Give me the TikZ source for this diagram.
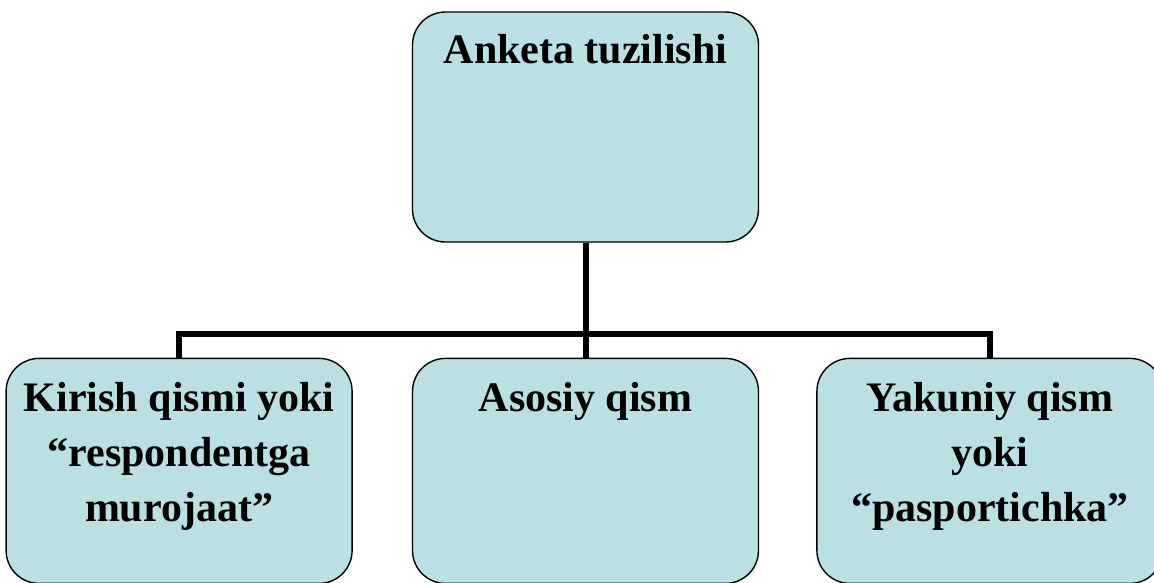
\documentclass[tikz,border=0pt]{standalone}
\usepackage{fontspec}
\setmainfont{Liberation Serif}
\usepackage{tikz}
\usetikzlibrary{positioning}
\definecolor{boxblue}{RGB}{186,224,228}

\begin{document}
\begin{tikzpicture}[node distance=115pt,
    box/.style={rectangle, draw, line width=1.4pt, fill=boxblue, rounded corners=33pt,
        minimum width=346pt, inner xsep=4pt, inner ysep=10pt, align=center,
        font=\fontsize{42}{55}\selectfont\bfseries},
    conn/.style={line width=6pt}]
    \useasboundingbox (0,0) rectangle (1154pt,-582pt);

    \node (anketa) [box, text height=41pt, text depth=169pt] at (585.5pt,-127pt) {Anketa tuzilishi};
    \node (asosiy) [box, text height=43pt, text depth=162pt, below=of anketa] {Asosiy qism};
    \node (kirish) [box, text height=153pt, text depth=52pt, left=59pt of asosiy]
        {Kirish qismi yoki\\“respondentga\\murojaat”};
    \node (yakuniy) [box, text height=153pt, text depth=52pt, right=57pt of asosiy]
        {Yakuniy qism\\yoki\\“pasportichka”};

    \draw [conn] (anketa.south) -- (asosiy.north);
    \draw [conn] (kirish.north) -- ++(0,24pt) -| (yakuniy.north);
\end{tikzpicture}
\end{document}
